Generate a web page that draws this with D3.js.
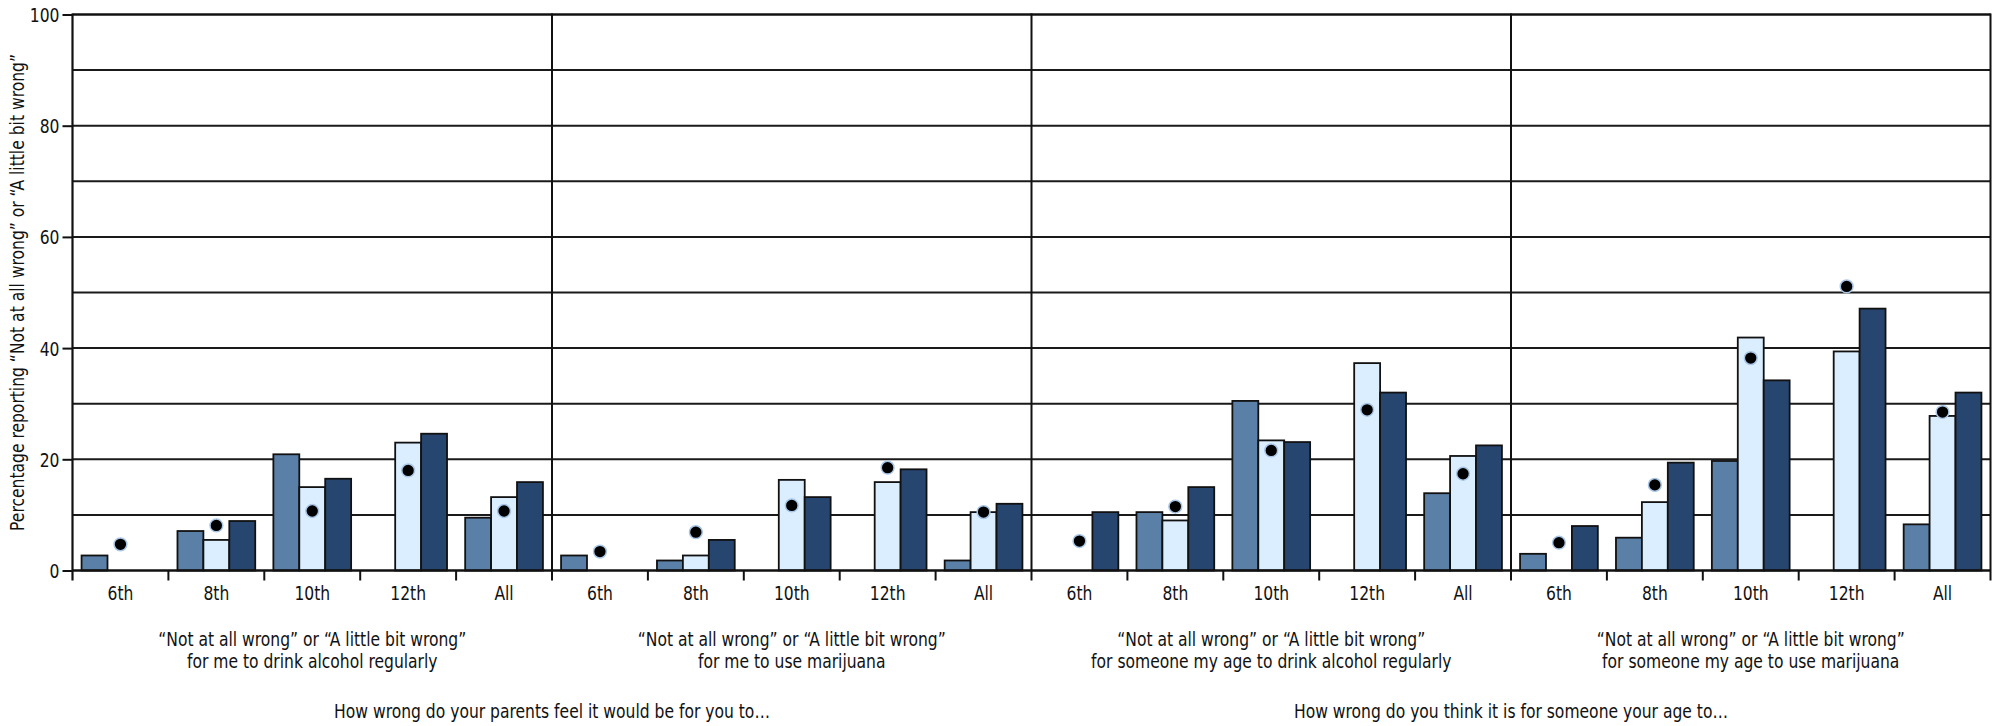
<!DOCTYPE html>
<html>
<head>
<meta charset="utf-8">
<script src="https://cdn.jsdelivr.net/npm/d3@7"></script>
<style>
  html, body { margin: 0; padding: 0; background: #fff; }
  svg { display: block; }
  text { font-family: "Liberation Sans Narrow", "DejaVu Sans Condensed", "Roboto Condensed", sans-serif; fill: #111; }
</style>
</head>
<body>
<script>
// ---------- data ----------
const grades = ["6th", "8th", "10th", "12th", "All"];
const panelTitles = [
  ["\u201CNot at all wrong\u201D or \u201CA little bit wrong\u201D", "for me to drink alcohol regularly"],
  ["\u201CNot at all wrong\u201D or \u201CA little bit wrong\u201D", "for me to use marijuana"],
  ["\u201CNot at all wrong\u201D or \u201CA little bit wrong\u201D", "for someone my age to drink alcohol regularly"],
  ["\u201CNot at all wrong\u201D or \u201CA little bit wrong\u201D", "for someone my age to use marijuana"]
];
const groupTitles = [
  "How wrong do your parents feel it would be for you to\u2026",
  "How wrong do you think it is for someone your age to\u2026"
];
const yTicks = [0, 20, 40, 60, 80, 100];
const yTitle = "Percentage reporting \u201CNot at all wrong\u201D or \u201CA little bit wrong\u201D";

// series per panel (null = no bar)
const seriesA = [ // mid blue
  [2.7, 7.1, 20.9, null, 9.5],
  [2.7, 1.8, null, null, 1.8],
  [null, 10.5, 30.5, null, 13.9],
  [3.0, 5.9, 19.7, null, 8.3]
];
const seriesB = [ // light blue
  [null, 5.5, 15.0, 23.0, 13.2],
  [null, 2.7, 16.3, 15.9, 10.5],
  [null, 9.0, 23.4, 37.3, 20.6],
  [null, 12.3, 41.9, 39.4, 27.8]
];
const seriesC = [ // dark blue
  [null, 8.9, 16.5, 24.6, 15.9],
  [null, 5.5, 13.2, 18.2, 12.0],
  [10.5, 15.0, 23.1, 32.0, 22.5],
  [8.0, 19.4, 34.2, 47.1, 32.0]
];
const pointValues = [ // black dots
  [4.7, 8.1, 10.7, 18.0, 10.7],
  [3.4, 6.9, 11.7, 18.5, 10.5],
  [5.3, 11.5, 21.6, 28.9, 17.4],
  [5.0, 15.4, 38.2, 51.1, 28.5]
];
const seriesKeys = ["a", "b", "c"];
const seriesColors = { a: "#5b80a8", b: "#dbeeff", c: "#27466f" };

// ---------- layout ----------
const W = 2001, H = 726;
const mLeft = 72.5, mRight = 1990.5, mTop = 14.5, mBottom = 570.5;
const FS = 20, SX = 0.865; // font size and horizontal squeeze (condensed look)

const svg = d3.select("body").append("svg").attr("width", W).attr("height", H);

function label(parent, x, yy, txt, anchor) {
  return parent.append("text")
    .attr("transform", `translate(${x},${yy}) scale(${SX},1)`)
    .attr("text-anchor", anchor || "middle")
    .attr("font-size", FS)
    .text(txt);
}

const panelIdx = d3.range(panelTitles.length);
const xPanel = d3.scaleBand().domain(panelIdx).range([mLeft, mRight]).padding(0);
const xCat = d3.scaleBand().domain(grades).range([0, xPanel.bandwidth()]).padding(0);
const xSer = d3.scaleBand().domain(seriesKeys).range([0, xCat.bandwidth()]).paddingInner(0).paddingOuter(0.35);
const y = d3.scaleLinear().domain([0, 100]).range([mBottom, mTop]);

// gridlines every 10
const gridVals = d3.range(10, 101, 10);
svg.append("g").selectAll("line").data(gridVals).join("line")
  .attr("x1", mLeft).attr("x2", mRight)
  .attr("y1", d => y(d)).attr("y2", d => y(d))
  .attr("stroke", "#1a1a1a").attr("stroke-width", 2);

// bars + points
const allSeries = { a: seriesA, b: seriesB, c: seriesC };
panelIdx.forEach(p => {
  const g = svg.append("g").attr("transform", `translate(${xPanel(p)},0)`);
  const barData = [];
  grades.forEach((gr, i) => {
    seriesKeys.forEach(k => {
      const v = allSeries[k][p][i];
      if (v != null) barData.push({ gr, k, v });
    });
  });
  g.selectAll("rect").data(barData).join("rect")
    .attr("x", d => xCat(d.gr) + xSer(d.k))
    .attr("width", xSer.bandwidth())
    .attr("y", d => y(d.v))
    .attr("height", d => y(0) - y(d.v))
    .attr("fill", d => seriesColors[d.k])
    .attr("stroke", "#111").attr("stroke-width", 1.8);
  g.selectAll("circle").data(pointValues[p].map((v, i) => ({ gr: grades[i], v }))).join("circle")
    .attr("cx", d => xCat(d.gr) + xSer("b") + xSer.bandwidth() / 2)
    .attr("cy", d => y(d.v))
    .attr("r", 6.4)
    .attr("fill", "#000")
    .attr("stroke", "#a9c6e6").attr("stroke-width", 1.5);

  // category ticks (boundaries) and tick labels
  const bounds = grades.slice(1).map(gr => xCat(gr));
  g.selectAll("line.ctick").data(bounds).join("line").attr("class", "ctick")
    .attr("x1", d => d).attr("x2", d => d)
    .attr("y1", mBottom).attr("y2", mBottom + 10)
    .attr("stroke", "#111").attr("stroke-width", 2);
  grades.forEach(gr => label(g, xCat(gr) + xCat.bandwidth() / 2, 600, gr));
  // panel titles
  panelTitles[p].forEach((line, li) => label(g, xPanel.bandwidth() / 2, 646 + li * 22, line));
});

// panel dividers (full height, extend below axis)
svg.append("g").selectAll("line").data(panelIdx.concat([panelIdx.length])).join("line")
  .attr("x1", d => d < panelIdx.length ? xPanel(d) : mRight)
  .attr("x2", d => d < panelIdx.length ? xPanel(d) : mRight)
  .attr("y1", mTop - 1)
  .attr("y2", mBottom + 10)
  .attr("stroke", "#111").attr("stroke-width", d => d === 0 ? 2.2 : 2);

// baseline
svg.append("line").attr("x1", mLeft).attr("x2", mRight).attr("y1", y(0)).attr("y2", y(0))
  .attr("stroke", "#111").attr("stroke-width", 2.5);
// top line
svg.append("line").attr("x1", mLeft).attr("x2", mRight).attr("y1", y(100)).attr("y2", y(100))
  .attr("stroke", "#111").attr("stroke-width", 2.2);

// y axis
const yAxis = d3.axisLeft(y).tickValues(yTicks).tickSize(10).tickPadding(3);
const ya = svg.append("g").attr("transform", `translate(${mLeft},0)`).call(yAxis);
ya.select(".domain").remove();
ya.selectAll(".tick line").attr("stroke", "#111").attr("stroke-width", 2);
ya.selectAll(".tick text")
  .attr("x", null).attr("dy", "0.35em")
  .attr("transform", `translate(-13,0) scale(${SX},1)`)
  .attr("font-size", FS).attr("fill", "#111")
  .style("font-family", '"Liberation Sans Narrow", "DejaVu Sans Condensed", sans-serif');

// y title
svg.append("text").attr("text-anchor", "middle").attr("font-size", FS)
  .attr("transform", `translate(24,${(mTop + mBottom) / 2}) rotate(-90) scale(${SX},1)`)
  .text(yTitle);

// group titles, centred on each pair of panels
groupTitles.forEach((t, i) => {
  const cx = (xPanel(i * 2) + xPanel(i * 2 + 1) + xPanel.bandwidth()) / 2;
  label(svg, cx, 718, t);
});
</script>
</body>
</html>
